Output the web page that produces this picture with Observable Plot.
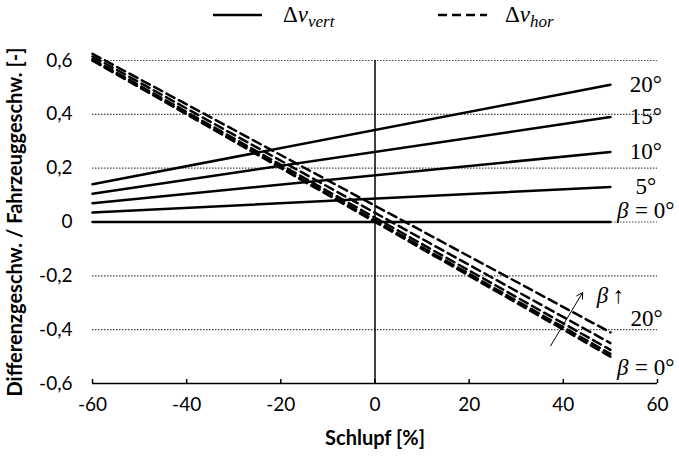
<!DOCTYPE html>
<html>
<head>
<meta charset="utf-8">
<script src="https://cdn.jsdelivr.net/npm/d3@7"></script>
<script src="https://cdn.jsdelivr.net/npm/@observablehq/plot@0.6"></script>
<style>
  html, body { margin: 0; padding: 0; background: #fff; }
  #wrap { position: relative; width: 679px; height: 458px; }
  #legend { position: absolute; left: 0; top: 0; width: 679px; height: 34px; }
  .math { font-family: "Liberation Serif", "DejaVu Serif", serif; font-style: italic; }
</style>
</head>
<body>
<div id="wrap">
  <div id="chart"></div>
  <svg id="legend" width="679" height="34">
    <line x1="213" x2="262" y1="15" y2="15" stroke="#000" stroke-width="2.5"/>
    <text x="283" y="22" font-size="23" class="math"><tspan font-style="normal">Δ</tspan>v<tspan font-size="17" dy="5">vert</tspan></text>
    <line x1="438" x2="487" y1="15" y2="15" stroke="#000" stroke-width="2.5" stroke-dasharray="9,5"/>
    <text x="505" y="22" font-size="23" class="math"><tspan font-style="normal">Δ</tspan>v<tspan font-size="17" dy="5">hor</tspan></text>
  </svg>
</div>
<script>
// Slip (x) end points of every line [%]
const slipEnds = [-60, 50];
// steering / slip angle beta [°]
const betas = [0, 5, 10, 15, 20];
// Δv_vert at slip -60 and 50
const vertStart = [0, 0.035, 0.07, 0.105, 0.14];
const vertEnd = [0, 0.13, 0.26, 0.39, 0.51];
// Δv_hor at slip -60 and 50
const horStart = [0.60, 0.60, 0.605, 0.615, 0.625];
const horEnd = [-0.50, -0.49, -0.475, -0.45, -0.41];

const xTicks = [-60, -40, -20, 0, 20, 40, 60];
const yTicks = [-0.6, -0.4, -0.2, 0, 0.2, 0.4, 0.6];
const yGrid = [-0.4, -0.2, 0, 0.2, 0.4, 0.6];

// annotation labels (data coordinates)
const angleLabels = [
  {x: 57.5, y: 0.51, t: "20°"},
  {x: 57.5, y: 0.39, t: "15°"},
  {x: 57.5, y: 0.26, t: "10°"},
  {x: 57.5, y: 0.13, t: "5°"},
  {x: 57.7, y: -0.36, t: "20°"}
];
// "β = 0°" labels: italic β plus upright "= 0°"
const betaZeroLabels = [
  {x: 57.5, y: 0.042},
  {x: 57.5, y: -0.54}
];
const betaUpLabel = [{x: 49.8, y: -0.274}];
const arrowData = [{x1: 37.3, y1: -0.46, x2: 44.1, y2: -0.262}];

const vertData = [];
const horData = [];
betas.forEach((b, i) => {
  vertData.push({beta: b, x: slipEnds[0], y: vertStart[i]}, {beta: b, x: slipEnds[1], y: vertEnd[i]});
  horData.push({beta: b, x: slipEnds[0], y: horStart[i]}, {beta: b, x: slipEnds[1], y: horEnd[i]});
});

const fmt = d => d === 0 ? "0" : d3.format(".1f")(d).replace(".", ",").replace("−", "-");
const labelFont = "Lato, 'Open Sans', sans-serif";
const mathFont = "'Liberation Serif', 'DejaVu Serif', serif";

const chart = Plot.plot({
  width: 679,
  height: 458,
  marginLeft: 92,
  marginRight: 22,
  marginTop: 60,
  marginBottom: 75,
  style: {fontFamily: labelFont, fontSize: "19px", color: "#000", background: "#fff"},
  x: {domain: [-60, 60]},
  y: {domain: [-0.6, 0.6]},
  marks: [
    Plot.ruleY(yGrid, {x1: -60, x2: 60, stroke: "#444", strokeWidth: 1.2, strokeDasharray: "1.5,1.5"}),
    Plot.ruleX([0], {y1: -0.6, y2: 0.6, stroke: "#000", strokeWidth: 1.5}),
    Plot.ruleY([-0.6], {x1: -60, x2: 60, stroke: "#000", strokeWidth: 1.5}),
    Plot.ruleX(xTicks, {y1: -0.6, y2: -0.585, stroke: "#000", strokeWidth: 1.5}),
    Plot.axisX(xTicks, {tickSize: 0, tickPadding: 14, fontSize: 19, label: null, tickFormat: d => String(d)}),
    Plot.axisY(yTicks, {tickSize: 0, tickPadding: 20, fontSize: 19, label: null, tickFormat: fmt}),
    Plot.text(["Schlupf [%]"], {frameAnchor: "bottom", dy: 61, fontWeight: "bold", fontSize: 20}),
    Plot.text(["Differenzgeschw. / Fahrzeuggeschw. [-]"], {frameAnchor: "left", textAnchor: "middle", dx: -77, rotate: -90, fontWeight: "bold", fontSize: 20}),
    Plot.line(vertData, {x: "x", y: "y", z: "beta", stroke: "#000", strokeWidth: 2.5}),
    Plot.line(horData, {x: "x", y: "y", z: "beta", stroke: "#000", strokeWidth: 2.5, strokeDasharray: "9,5"}),
    Plot.arrow(arrowData, {x1: "x1", y1: "y1", x2: "x2", y2: "y2", stroke: "#000", strokeWidth: 1, headLength: 10}),
    Plot.text(angleLabels, {x: "x", y: "y", text: "t", fontFamily: mathFont, fontSize: 23, fill: "#000"}),
    Plot.text(betaZeroLabels, {x: "x", y: "y", text: () => "β", dx: -23, fontFamily: mathFont, fontStyle: "italic", fontSize: 23, fill: "#000"}),
    Plot.text(betaZeroLabels, {x: "x", y: "y", text: () => "= 0°", dx: 9, fontFamily: mathFont, fontSize: 23, fill: "#000"}),
    Plot.text(betaUpLabel, {x: "x", y: "y", text: () => "β", dx: -7, fontFamily: mathFont, fontStyle: "italic", fontSize: 23, fill: "#000"}),
    Plot.text(betaUpLabel, {x: "x", y: "y", text: () => "↑", dx: 9, fontFamily: mathFont, fontSize: 23, fill: "#000"})
  ]
});
document.getElementById("chart").appendChild(chart);
</script>
</body>
</html>
